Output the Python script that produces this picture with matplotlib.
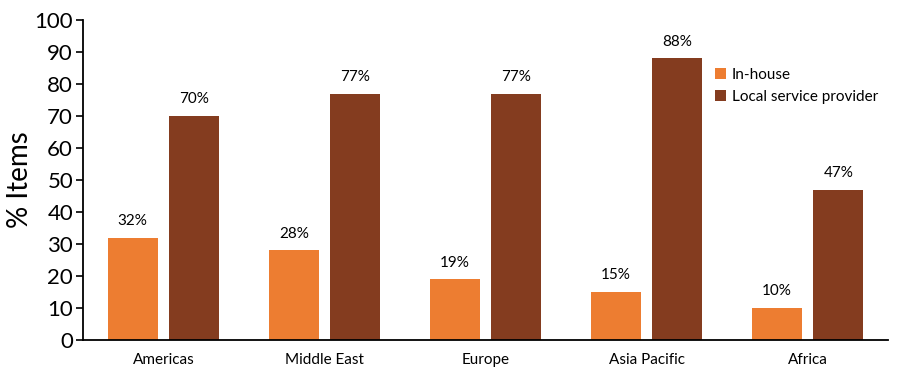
import matplotlib.pyplot as plt
import numpy as np

plt.rcParams['font.family'] = ['Lato', 'DejaVu Sans']

regions = ['Americas', 'Middle East', 'Europe', 'Asia Pacific', 'Africa']
in_house = [32, 28, 19, 15, 10]
local_provider = [70, 77, 77, 88, 47]

x = np.arange(len(regions))
w = 0.31

fig = plt.figure(figsize=(9, 3.75), dpi=100)
ax = fig.add_axes([0.092, 0.093, 0.895, 0.854])

b1 = ax.bar(x - 0.19, in_house, w, color='#ED7D31', label='In-house')
b2 = ax.bar(x + 0.19, local_provider, w, color='#843C1F', label='Local service provider')

# value labels above bars
for bars in (b1, b2):
    for b in bars:
        ax.text(b.get_x() + b.get_width() / 2, b.get_height() + 3,
                f'{int(b.get_height())}%', ha='center', va='bottom', fontsize=11)

ax.set_xlim(-0.5, len(regions) - 0.5)
ax.set_ylim(0, 100)
ax.set_yticks(range(0, 101, 10))
ax.set_xticks(x)
ax.set_xticklabels(regions, fontsize=11)
ax.tick_params(axis='x', length=0, pad=9)
ax.tick_params(axis='y', labelsize=16, length=5, width=1.2, pad=2)
ax.set_ylabel('% Items', fontsize=20, labelpad=1)

ax.spines['top'].set_visible(False)
ax.spines['right'].set_visible(False)
ax.spines['left'].set_linewidth(1.3)
ax.spines['bottom'].set_linewidth(1.3)

ax.legend(loc='upper left', bbox_to_anchor=(0.785, 0.85), frameon=False,
          fontsize=11, handlelength=0.7, handleheight=0.7, handletextpad=0.4,
          labelspacing=0.5, borderaxespad=0, borderpad=0)

plt.savefig('out.png')
